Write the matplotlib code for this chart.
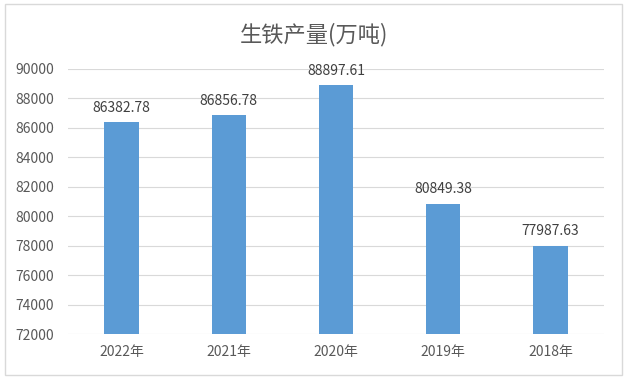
import matplotlib.pyplot as plt
from matplotlib.patches import Rectangle

plt.rcParams['font.family'] = ['Noto Sans CJK SC', 'DejaVu Sans']

# 数据
years = ['2022年', '2021年', '2020年', '2019年', '2018年']
output = [86382.78, 86856.78, 88897.61, 80849.38, 77987.63]
yticks = list(range(72000, 90001, 2000))

fig = plt.figure(figsize=(6.28, 3.79), dpi=100)
ax = fig.add_axes([68 / 628, 1 - 334 / 379, 536 / 628, 265 / 379])

x = range(len(years))
bars = ax.bar(x, output, width=0.32, color='#5B9BD5', zorder=3)
for b, v in zip(bars, output):
    ax.text(b.get_x() + b.get_width() / 2, v + 500, f'{v:.2f}',
            ha='center', va='bottom', fontsize=10, color='#404040')

ax.set_xlim(-0.5, len(years) - 0.5)
ax.set_ylim(72000, 90000)
ax.set_yticks(yticks)
ax.set_xticks(list(x))
ax.set_xticklabels(years)
ax.grid(axis='y', color='#D9D9D9', linewidth=0.8, zorder=0)
for s in ax.spines.values():
    s.set_visible(False)
ax.tick_params(length=0, labelsize=10, labelcolor='#595959')
ax.tick_params(axis='x', pad=8)
ax.tick_params(axis='y', pad=10)

fig.text(0.5, 1 - 35 / 379, '生铁产量(万吨)', ha='center', va='center',
         fontsize=16, color='#595959')

# 外框
fig.patches.append(Rectangle((5 / 628, 4 / 379), 617 / 628, 371 / 379,
                             transform=fig.transFigure, fill=False,
                             edgecolor='#D9D9D9', linewidth=1))

fig.savefig('out.png', dpi=100)
